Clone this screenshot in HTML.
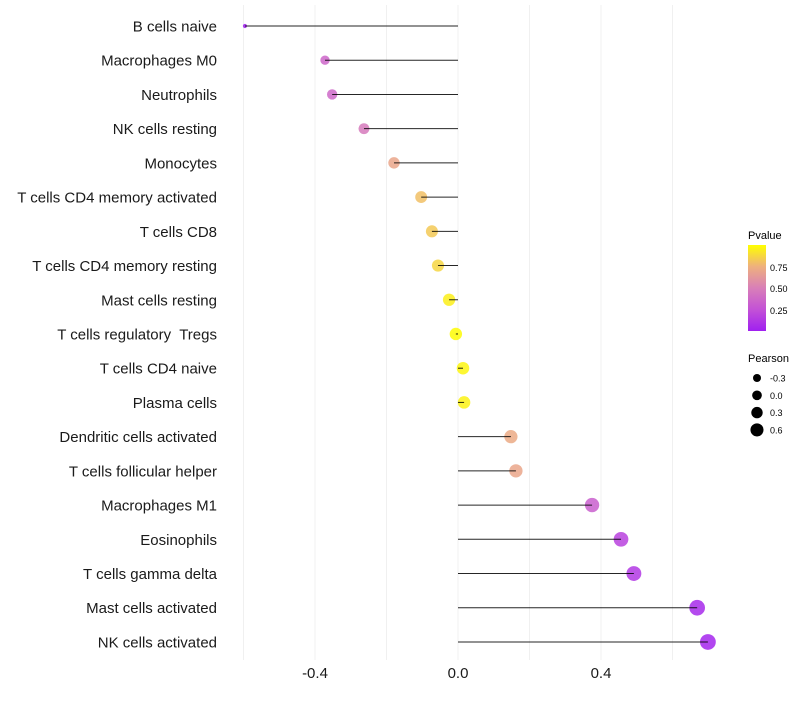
<!DOCTYPE html>
<html><head><meta charset="utf-8"><style>
body{margin:0;background:#fff;font-family:"Liberation Sans",sans-serif}
svg text{font-family:"Liberation Sans",sans-serif;white-space:pre}
</style></head><body>
<svg id="chart" width="800" height="700">
<defs><linearGradient id="pg" x1="0" y1="1" x2="0" y2="0">
<stop offset="0" stop-color="#a020f0"/><stop offset="0.25" stop-color="#c352d6"/><stop offset="0.5" stop-color="#d97fb8"/><stop offset="0.75" stop-color="#eeb07e"/><stop offset="1" stop-color="#ffff00"/></linearGradient></defs>
<g id="grid"></g>
<g id="marks"></g>
<g id="ylabels"></g>
<g id="xlabels"></g>
<g>
<text x="748" y="239" font-size="11">Pvalue</text>
<rect x="748" y="245" width="18" height="86" fill="url(#pg)"/>
<text x="770" y="271" font-size="9">0.75</text>
<text x="770" y="292" font-size="9">0.50</text>
<text x="770" y="314" font-size="9">0.25</text>
</g>
<g id="sizeleg">
<text x="748" y="362" font-size="11">Pearson</text>
</g>
</svg>
<script>
const categories=["B cells naive","Macrophages M0","Neutrophils","NK cells resting","Monocytes","T cells CD4 memory activated","T cells CD8","T cells CD4 memory resting","Mast cells resting","T cells regulatory  Tregs","T cells CD4 naive","Plasma cells","Dendritic cells activated","T cells follicular helper","Macrophages M1","Eosinophils","T cells gamma delta","Mast cells activated","NK cells activated"];
const pearson=[-0.596,-0.372,-0.352,-0.263,-0.179,-0.103,-0.073,-0.056,-0.025,-0.006,0.014,0.017,0.148,0.162,0.375,0.456,0.492,0.669,0.699];
const pvalue=[0.0,0.36,0.37,0.47,0.7,0.8,0.83,0.87,0.95,0.99,0.97,0.96,0.72,0.7,0.32,0.17,0.12,0.05,0.03];
const xTicks=[-0.4,0.0,0.4];
const xTickLabels=["-0.4","0.0","0.4"];
const gridVals=[-0.6,-0.4,-0.2,0,0.2,0.4,0.6];
const sizeLegVals=[-0.3,0.0,0.3,0.6];
const NS="http://www.w3.org/2000/svg";
const xs=v=>458+v*357.5;
const ys=i=>26+i*34.22;
function rs(v){let r2;if(v<-0.37){r2=4+(v+0.6)/0.23*18;}else{r2=22+(v+0.37)*32;}return Math.sqrt(Math.max(3,r2))+(v<-0.37?0:0.4);}
const stops=[[0,[160,32,240]],[0.25,[195,82,214]],[0.5,[217,127,184]],[0.75,[238,176,126]],[1,[255,255,0]]];
function col(p){for(let k=0;k<stops.length-1;k++){const a=stops[k],b=stops[k+1];if(p<=b[0]){const t=(p-a[0])/(b[0]-a[0]);return 'rgb('+a[1].map((c,j)=>Math.round(c+(b[1][j]-c)*t)).join(',')+')';}}return 'rgb(255,255,0)';}
function el(t,a,p){const e=document.createElementNS(NS,t);for(const k in a)e.setAttribute(k,a[k]);p.appendChild(e);return e;}
const grid=document.getElementById('grid');
gridVals.forEach(v=>{const l=el('line',{x1:xs(v),x2:xs(v),y1:5,y2:660,stroke:'#f0f0f0','stroke-width':1},grid);

});
const marks=document.getElementById('marks'),yl=document.getElementById('ylabels'),xl=document.getElementById('xlabels');
categories.forEach((c,i)=>{
 const d=el('circle',{cx:xs(pearson[i]),cy:ys(i),r:rs(pearson[i]),fill:col(pvalue[i]),'fill-opacity':0.85},marks);
 
 
 const l=el('line',{x1:xs(0),x2:xs(pearson[i]),y1:ys(i),y2:ys(i),stroke:'#000','stroke-width':1,'stroke-opacity':0.85},marks);
 
 
 const t=el('text',{x:217,y:ys(i)+5.5,'text-anchor':'end','font-size':15,fill:'#1a1a1a'},yl);
 t.textContent=c;
 
 
});
xTicks.forEach((v,i)=>{const t=el('text',{x:xs(v),y:678,'text-anchor':'middle','font-size':15,fill:'#1a1a1a'},xl);
t.textContent=xTickLabels[i];

});
const sl=document.getElementById('sizeleg');
sizeLegVals.forEach((v,i)=>{const y=378+i*17.3;
const c=el('circle',{cx:757,cy:y,r:4+i*0.85,fill:'#000'},sl);


const t=el('text',{x:770,y:y+3.5,'font-size':9},sl);t.textContent=v.toFixed(1);

});
</script>
</body></html>
